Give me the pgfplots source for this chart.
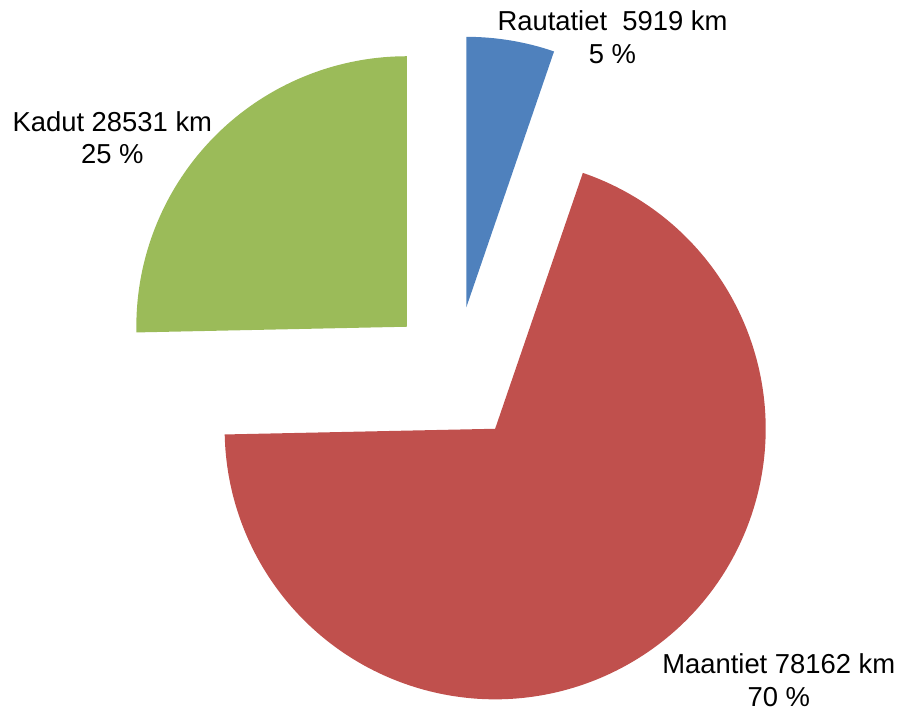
\documentclass[border=0pt]{standalone}
\usepackage{pgfplots}
\pgfplotsset{compat=1.18}
\usepackage{pgfplotstable}
\usepackage{fontspec}
\setmainfont{Liberation Sans}
\definecolor{pieblue}{HTML}{4F81BD}
\definecolor{piered}{HTML}{C0504D}
\definecolor{piegreen}{HTML}{9BBB59}
\pgfplotstableread{
label value
Rautatiet 5919
Maantiet 78162
Kadut 28531
}\roaddata
\pgfplotstablegetelem{0}{value}\of\roaddata \let\vR\pgfplotsretval
\pgfplotstablegetelem{1}{value}\of\roaddata \let\vM\pgfplotsretval
\pgfplotstablegetelem{2}{value}\of\roaddata \let\vK\pgfplotsretval
\edef\total{\fpeval{\vR+\vM+\vK}}
\edef\aA{90}
\edef\aB{\fpeval{90-360*\vR/\total}}
\edef\aC{\fpeval{\aB-360*\vM/\total}}
\edef\aD{\fpeval{\aC-360*\vK/\total}}
\edef\mA{\fpeval{(\aA+\aB)/2}}
\edef\mB{\fpeval{(\aB+\aC)/2}}
\edef\mC{\fpeval{(\aC+\aD)/2}}
\def\cx{455.2}
\def\cy{338.9}
\def\rad{135.25pt}
\def\ex{33.85pt}
\begin{document}%
\begin{tikzpicture}
\begin{axis}[x=0.5pt, y=0.5pt, xmin=0, xmax=901, ymin=0, ymax=713,
  enlargelimits=false, hide axis, ticks=none, clip=false]
\fill[pieblue] (axis cs:\cx,\cy) ++(\mA:\ex) -- ++(\aA:\rad) arc[start angle=\aA, end angle=\aB, radius=\rad] -- cycle;
\fill[piered] (axis cs:\cx,\cy) ++(\mB:\ex) -- ++(\aB:\rad) arc[start angle=\aB, end angle=\aC, radius=\rad] -- cycle;
\fill[piegreen] (axis cs:\cx,\cy) ++(\mC:\ex) -- ++(\aC:\rad) arc[start angle=\aC, end angle=\aD, radius=\rad] -- cycle;
\begin{scope}[every node/.style={anchor=base, inner sep=0pt, font=\fontsize{13.7}{16.3}\selectfont}]
\node at (axis cs:612.5,682.3) {Rautatiet\ \ 5919 km};
\node at (axis cs:612.5,649.7) {5 \%};
\node at (axis cs:112.3,581.3) {Kadut 28531 km};
\node at (axis cs:112.3,549.0) {25 \%};
\node at (axis cs:778.8,39.7) {Maantiet 78162 km};
\node at (axis cs:778.8,6.3) {70 \%};
\end{scope}
\end{axis}
\pgfresetboundingbox
\useasboundingbox (current axis.south west) rectangle (current axis.north east);
\end{tikzpicture}%
\end{document}
